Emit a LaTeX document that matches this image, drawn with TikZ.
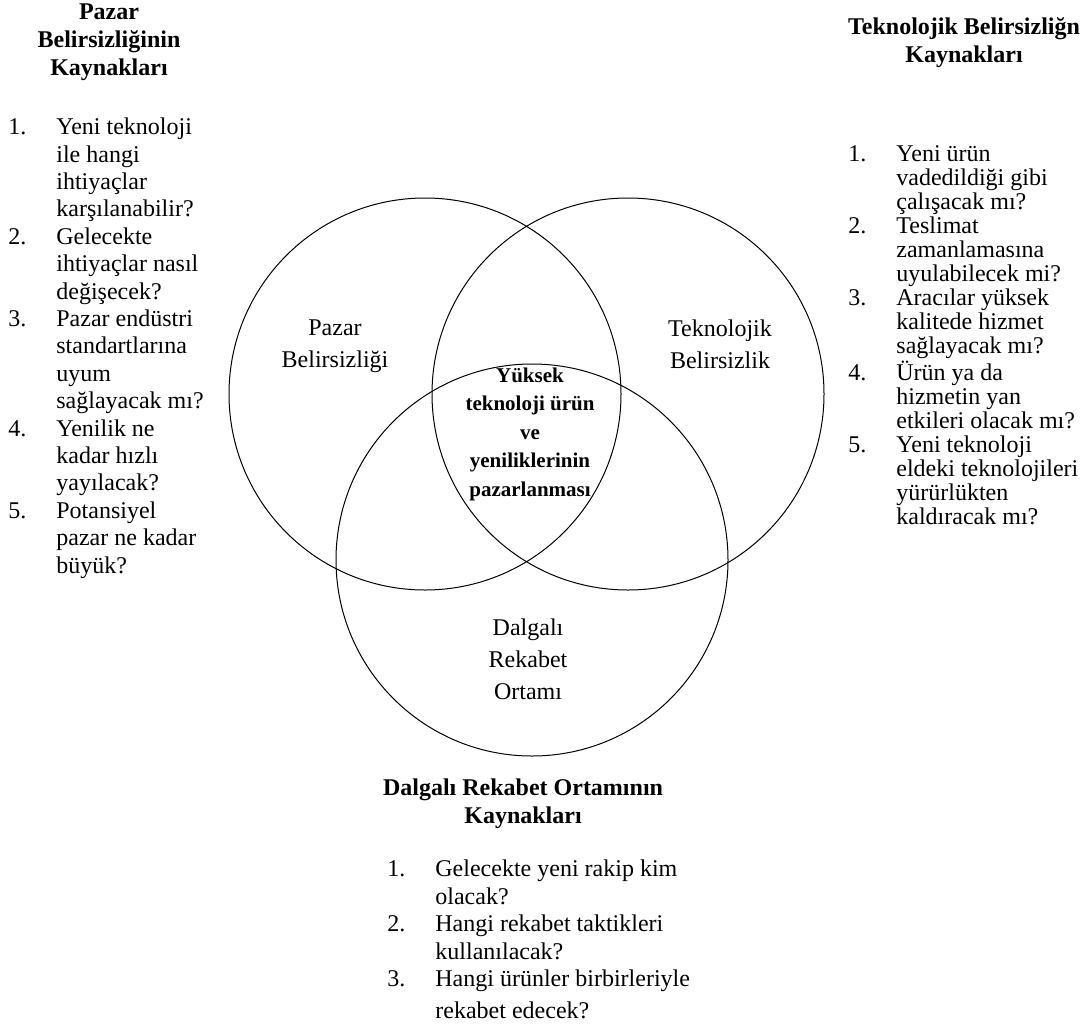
\documentclass[tikz,border=0pt]{standalone}
\usepackage{fontspec}
\setmainfont{Liberation Serif}
\newcommand{\lnum}[1]{\makebox[24pt][l]{#1}}
\newcommand{\lgap}{\hspace*{24pt}}

\begin{document}
\begin{tikzpicture}[
    x=0.5pt, y=-0.5pt,
    set/.style  = {circle, draw, line width=0.5pt, inner sep=0pt,
                   minimum size=196pt},
    lbl/.style  = {align=center, inner sep=0pt,
                   font=\fontsize{12}{15.8}\selectfont},
    core/.style = {align=center, inner sep=0pt,
                   font=\fontsize{10.5}{14.25}\selectfont\bfseries},
    head/.style = {align=center, inner sep=0pt,
                   font=\fontsize{12}{13.8}\selectfont\bfseries},
    items/.style = {align=left, inner sep=0pt,
                   font=\fontsize{12}{13.7}\selectfont}
]
\useasboundingbox (0,0) rectangle (1085,1028);

\node[set] (pazar)   at (425,394) {};
\node[set] (teknik)  at (628,394) {};
\node[set] (rekabet) at (532,560) {};

\node[lbl, anchor=base]  (pazarlbl)   at (335,367) {Pazar\\Belirsizliği};
\node[lbl, anchor=base]  (teknoloji)  at (720,368) {Teknolojik\\Belirsizlik};
\node[lbl, anchor=base]  (ortam)      at (528,699) {Dalgalı\\Rekabet\\Ortamı};
\node[core, anchor=base] (merkez)     at (530,496) {Yüksek\\teknoloji ürün\\ve\\yeniliklerinin\\pazarlanması};

\node[head, anchor=base] (pazarhead)  at (109,75) {Pazar\\Belirsizliğinin\\Kaynakları};
\node[items, anchor=base west] (pazarlist) at (8,573) {%
\lnum{1.}Yeni teknoloji\\ \lgap ile hangi\\ \lgap ihtiyaçlar\\ \lgap karşılanabilir?\\
\lnum{2.}Gelecekte\\ \lgap ihtiyaçlar nasıl\\ \lgap değişecek?\\
\lnum{3.}Pazar endüstri\\ \lgap standartlarına\\ \lgap uyum\\ \lgap sağlayacak mı?\\
\lnum{4.}Yenilik ne\\ \lgap kadar hızlı\\ \lgap yayılacak?\\
\lnum{5.}Potansiyel\\ \lgap pazar ne kadar\\ \lgap büyük?};

\node[head, anchor=base] (teknikhead) at (964,62) {Teknolojik Belirsizliğn\\Kaynakları};
\node[items, anchor=base west, font=\fontsize{12}{12}\selectfont] (teknikliste) at (848,524) {%
\lnum{1.}Yeni ürün\\ \lgap vadedildiği gibi\\ \lgap çalışacak mı?\\
\lnum{2.}Teslimat\\ \lgap zamanlamasına\\ \lgap uyulabilecek mi?\\
\lnum{3.}Aracılar yüksek\\ \lgap kalitede hizmet\\ \lgap sağlayacak mı?\\
\lnum{4.}Ürün ya da\\ \lgap hizmetin yan\\ \lgap etkileri olacak mı?\\
\lnum{5.}Yeni teknoloji\\ \lgap eldeki teknolojileri\\ \lgap yürürlükten\\ \lgap kaldıracak mı?};

\node[head, anchor=base] (rekabethead) at (523,823) {Dalgalı Rekabet Ortamının\\Kaynakları};
\node[items, anchor=base west, font=\fontsize{12}{13.75}\selectfont] (rekabetliste) at (387,1018) {%
\lnum{1.}Gelecekte yeni rakip kim\\ \lgap olacak?\\
\lnum{2.}Hangi rekabet taktikleri\\ \lgap kullanılacak?\\
\lnum{3.}Hangi ürünler birbirleriyle\\[2pt] \lgap rekabet edecek?};
\end{tikzpicture}
\end{document}
